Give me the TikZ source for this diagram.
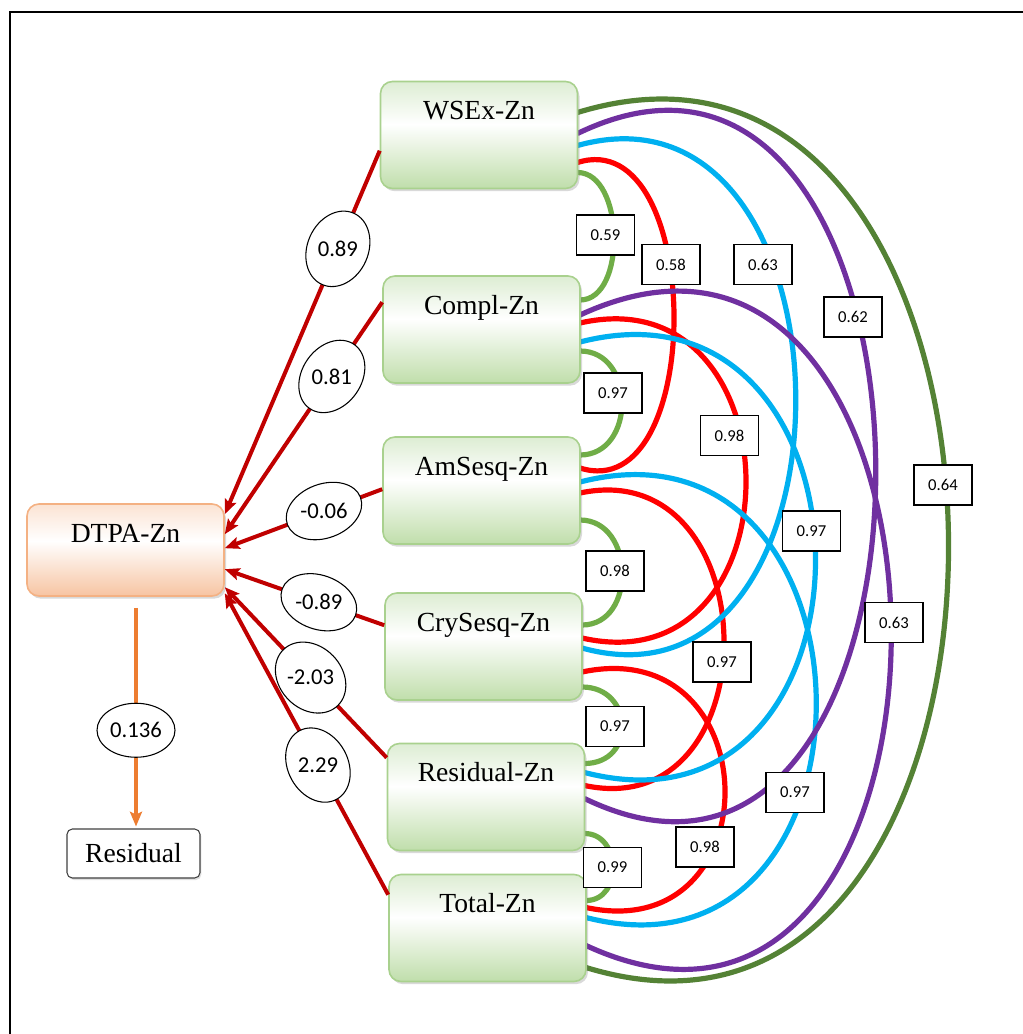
\documentclass[tikz,border=0pt]{standalone}
\usepackage{fontspec}
\setmainfont{Liberation Serif}
\newfontfamily\numfont{Carlito}
\usepackage{graphicx}
\usepackage{xcolor}
\usepackage{tikz}
\definecolor{LightGreen}{HTML}{70AD47}
\definecolor{DarkGreen}{HTML}{548235}
\definecolor{SkyBlue}{HTML}{00B0F0}
\definecolor{DeepPurple}{HTML}{7030A0}
\definecolor{BrightRed}{HTML}{FF0000}
\definecolor{DarkRed}{HTML}{C00000}
\definecolor{Peach}{HTML}{ED7D31}
\definecolor{ZnTop}{HTML}{DDEDD3}
\definecolor{ZnBot}{HTML}{C0DEAB}
\definecolor{ZnLine}{HTML}{A9D18E}
\definecolor{DtTop}{HTML}{FBE3D3}
\definecolor{DtBot}{HTML}{F7C4A2}
\definecolor{DtLine}{HTML}{F4B183}
\usetikzlibrary{shapes.geometric,shadows,calc}
\usetikzlibrary{arrows.meta}
\pgfdeclareverticalshading{zngrad}{100bp}{color(0bp)=(ZnBot); color(25bp)=(ZnBot); color(55bp)=(white); color(75bp)=(ZnTop); color(100bp)=(ZnTop)}
\pgfdeclareverticalshading{dtgrad}{100bp}{color(0bp)=(DtBot); color(25bp)=(DtBot); color(55bp)=(white); color(75bp)=(DtTop); color(100bp)=(DtTop)}

\begin{document}
\begin{tikzpicture}[x=0.75pt, y=-0.75pt, >={Stealth[length=11pt,width=9pt,inset=2pt]},
    zn/.style={rectangle, rounded corners=9pt, draw=ZnLine, line width=1.2pt, shading=zngrad,
        drop shadow={shadow xshift=1.5pt, shadow yshift=-2pt, opacity=.3},
        minimum width=147.75pt, inner ysep=0pt, text height=28.5pt, text depth=51.75pt,
        font=\fontsize{20.7}{24}\selectfont},
    dt/.style={zn, draw=DtLine, shading=dtgrad, text depth=40.5pt},
    plain/.style={rectangle, rounded corners=4pt, draw=black!75, line width=0.8pt, fill=white,
        drop shadow={shadow xshift=1pt, shadow yshift=-1.5pt, opacity=.25},
        minimum width=99.75pt, minimum height=36.75pt, font=\fontsize{20.7}{24}\selectfont},
    coef/.style={ellipse, draw=black, text=black, line width=0.8pt, fill=white,
        minimum width=58.5pt, minimum height=40.5pt, inner sep=0pt,
        font=\numfont\fontsize{17}{19}\selectfont},
    val/.style={rectangle, draw=black, text=black, line width=0.8pt, fill=white,
        minimum width=43.5pt, minimum height=30pt, inner sep=0pt,
        font=\numfont\fontsize{12.5}{14}\selectfont},
    cor/.style={->, DarkRed, line width=3pt},
    link/.style={line width=3.9pt}]
\useasboundingbox (0,0) rectangle (1023,1034);
\draw[line width=1.6pt] (10,1034) -- (10,12) -- (1023,12);

% the six fractions
\foreach \n/\t/\x/\y in {wsex/WSEx-Zn/479/135, compl/Compl-Zn/481.5/329.5, amsesq/AmSesq-Zn/481.5/490.5,
    crysesq/CrySesq-Zn/483.5/646.5, residzn/Residual-Zn/486/797, totalzn/Total-Zn/487.5/928}{
    \path (\x,\y) coordinate (p\n);
}

% correlation arcs
\foreach \a/\ya/\b/\yb/\c/\e/\col in {
    wsex/91/compl/24/47/0/LightGreen, compl/75/amsesq/18/56/0/LightGreen,
    amsesq/83/crysesq/32/55/0/LightGreen, crysesq/94/residzn/20/52/0/LightGreen,
    residzn/90/totalzn/26/37/0/LightGreen,
    wsex/81/amsesq/31/127/40/BrightRed, compl/47/crysesq/45/220/50/BrightRed,
    amsesq/56/residzn/42/189/40/BrightRed, crysesq/79/totalzn/33/188/40/BrightRed,
    wsex/64/crysesq/55/288/80/SkyBlue, compl/66/residzn/29/311/80/SkyBlue,
    amsesq/45/totalzn/43/311/80/SkyBlue,
    wsex/52/residzn/55/393/190/DeepPurple, compl/39/totalzn/71/411/190/DeepPurple,
    wsex/31/totalzn/93/489/150/DarkGreen}{
    \draw[link, draw=\col] ($(p\a)+(98.5,-53.5)+(0,\ya)$) .. controls +(\c,-\e) and +(\c,\e) .. ($(p\b)+(98.5,-53.5)+(0,\yb)$);
}

\foreach \n/\t/\x/\y in {wsex/WSEx-Zn/479/135, compl/Compl-Zn/481.5/329.5, amsesq/AmSesq-Zn/481.5/490.5,
    crysesq/CrySesq-Zn/483.5/646.5, residzn/Residual-Zn/486/797, totalzn/Total-Zn/487.5/928}{
    \node[zn] (\n) at (p\n) {\t};
}

% values on the arcs
\foreach \v/\x/\y [count=\i] in {0.59/605.5/235, 0.58/671/264.5, 0.63/763/264.5, 0.62/853/317,
    0.64/943/485, 0.97/613/393, 0.98/729.5/435.5, 0.97/811.5/531, 0.98/615/571, 0.63/894/622.5,
    0.97/722/662, 0.97/615/726.5, 0.97/795/792.5, 0.98/705/847, 0.99/612.5/867.5}{
    \node[val] (v\i) at (\x,\y) {\v};
}

\node[dt] (dtpa) at (125.5,550) {DTPA-Zn};
\node[plain] (resid) at (133.5,853.5) {Residual};

% paths to DTPA-Zn
\foreach \n/\ya/\yb/\p/\r/\k [count=\i, evaluate=\r as \u using -\r] in {wsex/70/11/.27/66/0.89,
    compl/27/31/.32/55/0.81, amsesq/53/45/.37/20.5/-0.06, crysesq/33/66/.41/-19.6/-0.89,
    residzn/15/84/.47/-46/-2.03, totalzn/21/90/.43/-61.4/2.29}{
    \draw[cor] ($(\n.north west)+(0,\ya)$) -- node[coef, pos=\p, rotate=\r] (k\i) {\rotatebox{\u}{\k}} ($(dtpa.north east)+(0,\yb)$);
}

\draw[->, Peach, line width=3pt] ($(dtpa.south)+(10.5,11)$) -- node[coef, pos=.56] (k7) {0.136} ($(resid.north)+(2.5,-2)$);
\end{tikzpicture}
\end{document}
